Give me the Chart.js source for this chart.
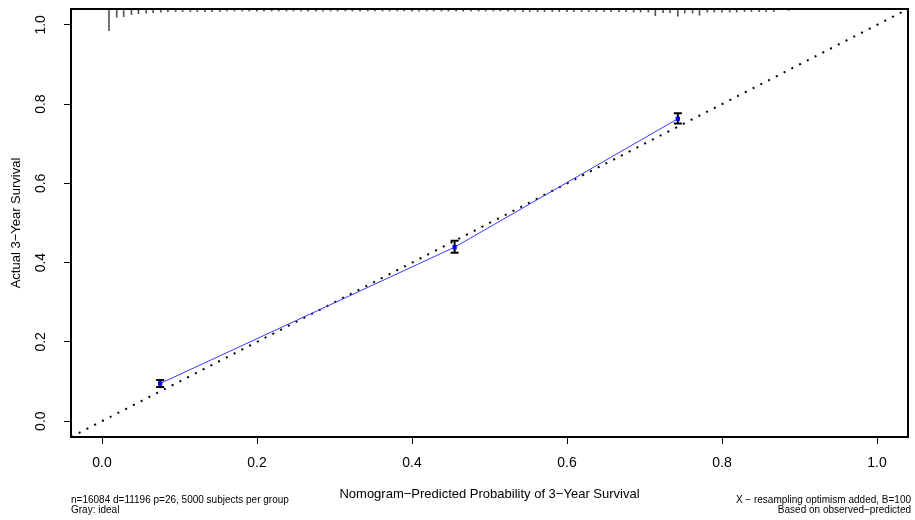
<!DOCTYPE html>
<html>
<head>
<meta charset="utf-8">
<title>Calibration: 3-year survival</title>
<script src="https://cdn.jsdelivr.net/npm/chart.js@4.4.0/dist/chart.umd.min.js"></script>
<style>
  html, body { margin: 0; padding: 0; background: #fff; }
  #wrap { width: 915px; height: 520px; }
</style>
</head>
<body>
<div id="wrap"><canvas id="calib" width="915" height="520"></canvas></div>
<script>
// grouped calibration: nomogram prediction vs Kaplan-Meier estimate
const predicted = [0.075, 0.455, 0.743];
const observed = [0.095, 0.439, 0.763];
const ciLower = [0.086, 0.425, 0.751];
const ciUpper = [0.104, 0.455, 0.777];

const axisTicks = [0.0, 0.2, 0.4, 0.6, 0.8, 1.0];

// spike histogram of predicted risk, hung from the top of the panel
const riskBins = [
  0.009, 0.019, 0.028, 0.038, 0.047, 0.057, 0.066, 0.076, 0.085, 0.095,
  0.104, 0.114, 0.123, 0.133, 0.142, 0.152, 0.161, 0.171, 0.181, 0.190,
  0.200, 0.209, 0.219, 0.228, 0.238, 0.247, 0.257, 0.266, 0.276, 0.285,
  0.295, 0.304, 0.314, 0.323, 0.333, 0.343, 0.352, 0.362, 0.371, 0.381,
  0.390, 0.400, 0.409, 0.419, 0.428, 0.438, 0.447, 0.457, 0.466, 0.476,
  0.486, 0.495, 0.505, 0.514, 0.524, 0.533, 0.543, 0.552, 0.562, 0.571,
  0.581, 0.590, 0.600, 0.609, 0.619, 0.628, 0.638, 0.648, 0.657, 0.667,
  0.676, 0.686, 0.695, 0.705, 0.714, 0.724, 0.733, 0.743, 0.752, 0.762,
  0.771, 0.781, 0.790, 0.800, 0.810, 0.819, 0.829, 0.838, 0.848, 0.857,
  0.867, 0.886
];
const riskFreq = [
  21, 8, 7.5, 5.5, 4.5, 4, 3.5, 3, 2.5, 2.5,
  2.5, 2.5, 2.5, 2.5, 2.5, 2.5, 2, 2, 2, 2,
  2, 2, 2, 2, 2, 2, 2, 2, 2, 2,
  2, 2, 2, 2, 2, 2, 2, 2, 2, 2,
  2, 2, 2, 2, 2, 2, 2, 2, 2, 2,
  2, 2, 2, 2, 2, 2, 2.5, 2.5, 2.5, 2.5,
  2.5, 2.5, 2.5, 2.5, 2.5, 2.5, 2.5, 2.5, 2.5, 2.5,
  2.5, 3, 3, 3, 6.5, 3.5, 3.5, 7, 4, 4,
  6, 3, 3, 3, 3, 3, 2.5, 2.5, 2.5, 2.5,
  2.5, 1.5
];

const AXIS_MIN = -0.04;
const AXIS_MAX = 1.04;
const SPIKE_SCALE = 0.0026;
const FONT = "'Liberation Sans', Arial, Helvetica, sans-serif";

const spikes = riskBins.map((x, i) => ({
  x: x,
  y: [AXIS_MAX - riskFreq[i] * SPIKE_SCALE, AXIS_MAX],
}));
const obsPoints = predicted.map((x, i) => ({ x: x, y: observed[i] }));

// error bars with short caps, drawn under the blue markers
const errorBars = {
  id: "errorBars",
  beforeDatasetsDraw(chart) {
    const { ctx, scales } = chart;
    ctx.save();
    ctx.strokeStyle = "#000";
    ctx.lineWidth = 2;
    for (let i = 0; i < predicted.length; i++) {
      const px = scales.x.getPixelForValue(predicted[i]);
      const lo = scales.y.getPixelForValue(ciLower[i]);
      const hi = scales.y.getPixelForValue(ciUpper[i]);
      ctx.beginPath();
      ctx.moveTo(px, lo);
      ctx.lineTo(px, hi);
      ctx.moveTo(px - 4, lo);
      ctx.lineTo(px + 4, lo);
      ctx.moveTo(px - 4, hi);
      ctx.lineTo(px + 4, hi);
      ctx.stroke();
    }
    ctx.restore();
  },
};

// frame, rotated y tick labels and the footnotes
const frameAndNotes = {
  id: "frameAndNotes",
  afterDraw(chart) {
    const { ctx, chartArea, scales } = chart;
    ctx.save();
    ctx.strokeStyle = "#000";
    ctx.lineWidth = 2;
    ctx.strokeRect(
      chartArea.left,
      chartArea.top,
      chartArea.right - chartArea.left,
      chartArea.bottom - chartArea.top
    );

    ctx.fillStyle = "#000";
    ctx.font = "14px " + FONT;
    ctx.textAlign = "center";
    ctx.textBaseline = "alphabetic";
    for (const v of axisTicks) {
      const py = scales.y.getPixelForValue(v);
      ctx.save();
      ctx.translate(45, py);
      ctx.rotate(-Math.PI / 2);
      ctx.fillText(v.toFixed(1), 0, 0);
      ctx.restore();
    }

    ctx.font = "10px " + FONT;
    ctx.textAlign = "left";
    ctx.fillText("n=16084 d=11196 p=26, 5000 subjects per group", 71, 503);
    ctx.fillText("Gray: ideal", 71, 513);
    ctx.textAlign = "right";
    ctx.fillText("X \u2212 resampling optimism added, B=100", 911, 503);
    ctx.fillText("Based on observed\u2212predicted", 911, 513);
    ctx.restore();
  },
};

new Chart(document.getElementById("calib"), {
  type: "scatter",
  data: {
    datasets: [
      {
        type: "bar",
        data: spikes,
        backgroundColor: "#555",
        borderWidth: 0,
        barThickness: 1,
        order: 3,
      },
      {
        type: "line",
        data: [
          { x: AXIS_MIN, y: AXIS_MIN },
          { x: AXIS_MAX, y: AXIS_MAX },
        ],
        borderColor: "#000",
        borderWidth: 2,
        borderDash: [2, 6.7],
        pointRadius: 0,
        order: 2,
      },
      {
        type: "line",
        data: obsPoints,
        borderColor: "#3a3aff",
        borderWidth: 1,
        pointStyle: "rect",
        pointRadius: 3,
        pointBackgroundColor: "#0000ee",
        pointBorderWidth: 0,
        order: 1,
      },
    ],
  },
  options: {
    responsive: false,
    devicePixelRatio: 1,
    animation: false,
    events: [],
    layout: { padding: { top: 9, right: 7, left: 0, bottom: 0 } },
    plugins: {
      legend: { display: false },
      tooltip: { enabled: false },
    },
    scales: {
      x: {
        type: "linear",
        min: AXIS_MIN,
        max: AXIS_MAX,
        offset: false,
        afterFit: (scale) => {
          scale.height = 83;
        },
        afterBuildTicks: (scale) => {
          scale.ticks = axisTicks.map((v) => ({ value: v }));
        },
        ticks: {
          color: "#000",
          font: { family: FONT, size: 14 },
          padding: 11,
          maxRotation: 0,
          callback: (v) => Number(v).toFixed(1),
        },
        grid: {
          offset: false,
          drawOnChartArea: false,
          tickLength: 7,
          color: "#000",
        },
        border: { display: false },
        title: {
          display: true,
          text: "Nomogram\u2212Predicted Probability of 3\u2212Year Survival",
          color: "#000",
          font: { family: FONT, size: 13 },
          padding: { top: 0, bottom: 18 },
        },
      },
      y: {
        type: "linear",
        min: AXIS_MIN,
        max: AXIS_MAX,
        afterFit: (scale) => {
          scale.width = 71;
        },
        afterBuildTicks: (scale) => {
          scale.ticks = axisTicks.map((v) => ({ value: v }));
        },
        ticks: { display: false },
        grid: {
          offset: false,
          drawOnChartArea: false,
          tickLength: 7,
          color: "#000",
        },
        border: { display: false },
        title: {
          display: true,
          text: "Actual 3\u2212Year Survival",
          color: "#000",
          font: { family: FONT, size: 13 },
          padding: { top: 9, bottom: 0 },
        },
      },
    },
  },
  plugins: [errorBars, frameAndNotes],
});
</script>
</body>
</html>
